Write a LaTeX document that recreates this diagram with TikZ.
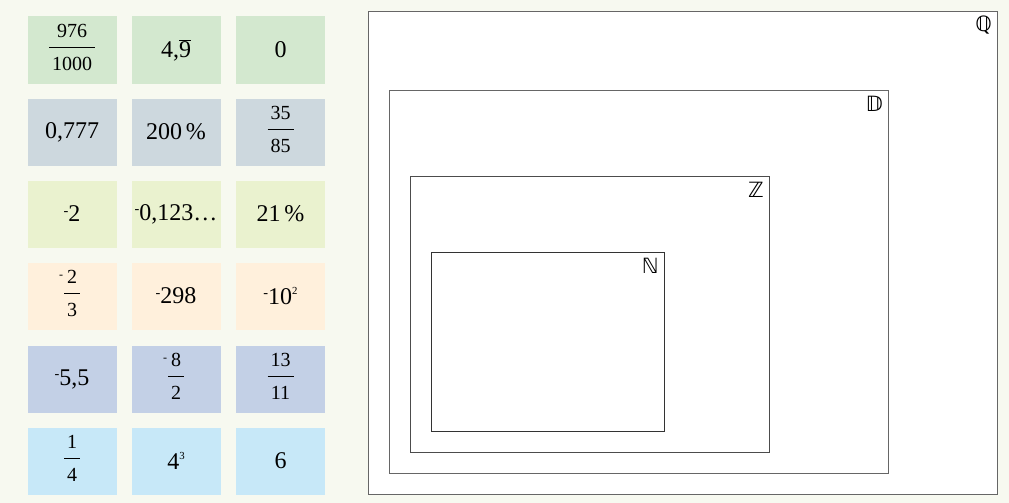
\documentclass[tikz,border=0pt]{standalone}
\usepackage{fontspec}
\usepackage{graphicx}
\setmainfont{Liberation Serif}
\newfontfamily\setsfont{DejaVu Sans}
\definecolor{bg}{HTML}{F7F9F0}
\definecolor{rowa}{HTML}{D3E8CF}
\definecolor{rowb}{HTML}{CDD8DE}
\definecolor{rowc}{HTML}{EAF2CF}
\definecolor{rowd}{HTML}{FFF0DC}
\definecolor{rowe}{HTML}{C3D0E6}
\definecolor{rowf}{HTML}{C7E8F8}
% raised short minus
\newcommand{\negm}{\raisebox{0.28em}{\scalebox{0.6}{-}}}
% small exponent
\newcommand{\ex}[1]{\raisebox{0.4em}{\scalebox{0.45}{#1}}}
% stacked fraction
\newcommand{\fr}[2]{{\fontsize{20}{20}\selectfont\setlength{\tabcolsep}{3pt}\setlength{\arrayrulewidth}{0.8pt}%
  \begin{tabular}{c}#1\\[3pt]\hline\rule{0pt}{23pt}#2\end{tabular}}}
\begin{document}
\begin{tikzpicture}[x=1pt,y=-1pt,
    cell/.style={minimum width=89pt,minimum height=67pt,inner sep=0pt,font=\fontsize{24}{27}\selectfont},
    setline/.style={line width=0.9pt},
    setlabel/.style={anchor=north east,inner sep=0pt,font=\setsfont\fontsize{21}{21}\selectfont}]
    \fill[bg] (0,0) rectangle (1009,503);
    % number cards
    \node[cell,fill=rowa] (a1) at (72,50) {\fr{976}{1000}};
    \node[cell,fill=rowa] (b1) at (176,50) {4,$\overline{\mbox{9}}$};
    \node[cell,fill=rowa] (c1) at (280.5,50) {0};
    \node[cell,fill=rowb] (a2) at (72,132) {0,777};
    \node[cell,fill=rowb] (b2) at (176,132) {200\,\%};
    \node[cell,fill=rowb] (c2) at (280.5,132) {\fr{35}{85}};
    \node[cell,fill=rowc] (a3) at (72,214) {\negm2};
    \node[cell,fill=rowc] (b3) at (176,214) {\negm0,123\ldots};
    \node[cell,fill=rowc] (c3) at (280.5,214) {21\,\%};
    \node[cell,fill=rowd] (a4) at (72,296) {\fr{\llap{\negm\kern4pt}2}{3}};
    \node[cell,fill=rowd] (b4) at (176,296) {\negm298};
    \node[cell,fill=rowd] (c4) at (280.5,296) {\negm10\ex{2}};
    \node[cell,fill=rowe] (a5) at (72,379) {\negm5,5};
    \node[cell,fill=rowe] (b5) at (176,379) {\fr{\llap{\negm\kern4pt}8}{2}};
    \node[cell,fill=rowe] (c5) at (280.5,379) {\fr{13}{11}};
    \node[cell,fill=rowf] (a6) at (72,461) {\fr{1}{4}};
    \node[cell,fill=rowf] (b6) at (176,461) {4\ex{3}};
    \node[cell,fill=rowf] (c6) at (280.5,461) {6};
    % nested sets
    \draw[setline,fill=white,draw=black!60] (368,11) rectangle (997,494);
    \draw[setline,draw=black!60] (389,90) rectangle (888,473);
    \draw[setline,draw=black!70] (410,176) rectangle (769,452);
    \draw[setline,draw=black!80] (431,252) rectangle (664,431);
    \node[setlabel] (setq) at (992,16) {ℚ};
    \node[setlabel] (setd) at (883,96) {𝔻};
    \node[setlabel] (setz) at (764,182) {ℤ};
    \node[setlabel] (setn) at (659,258) {ℕ};
\end{tikzpicture}
\end{document}
